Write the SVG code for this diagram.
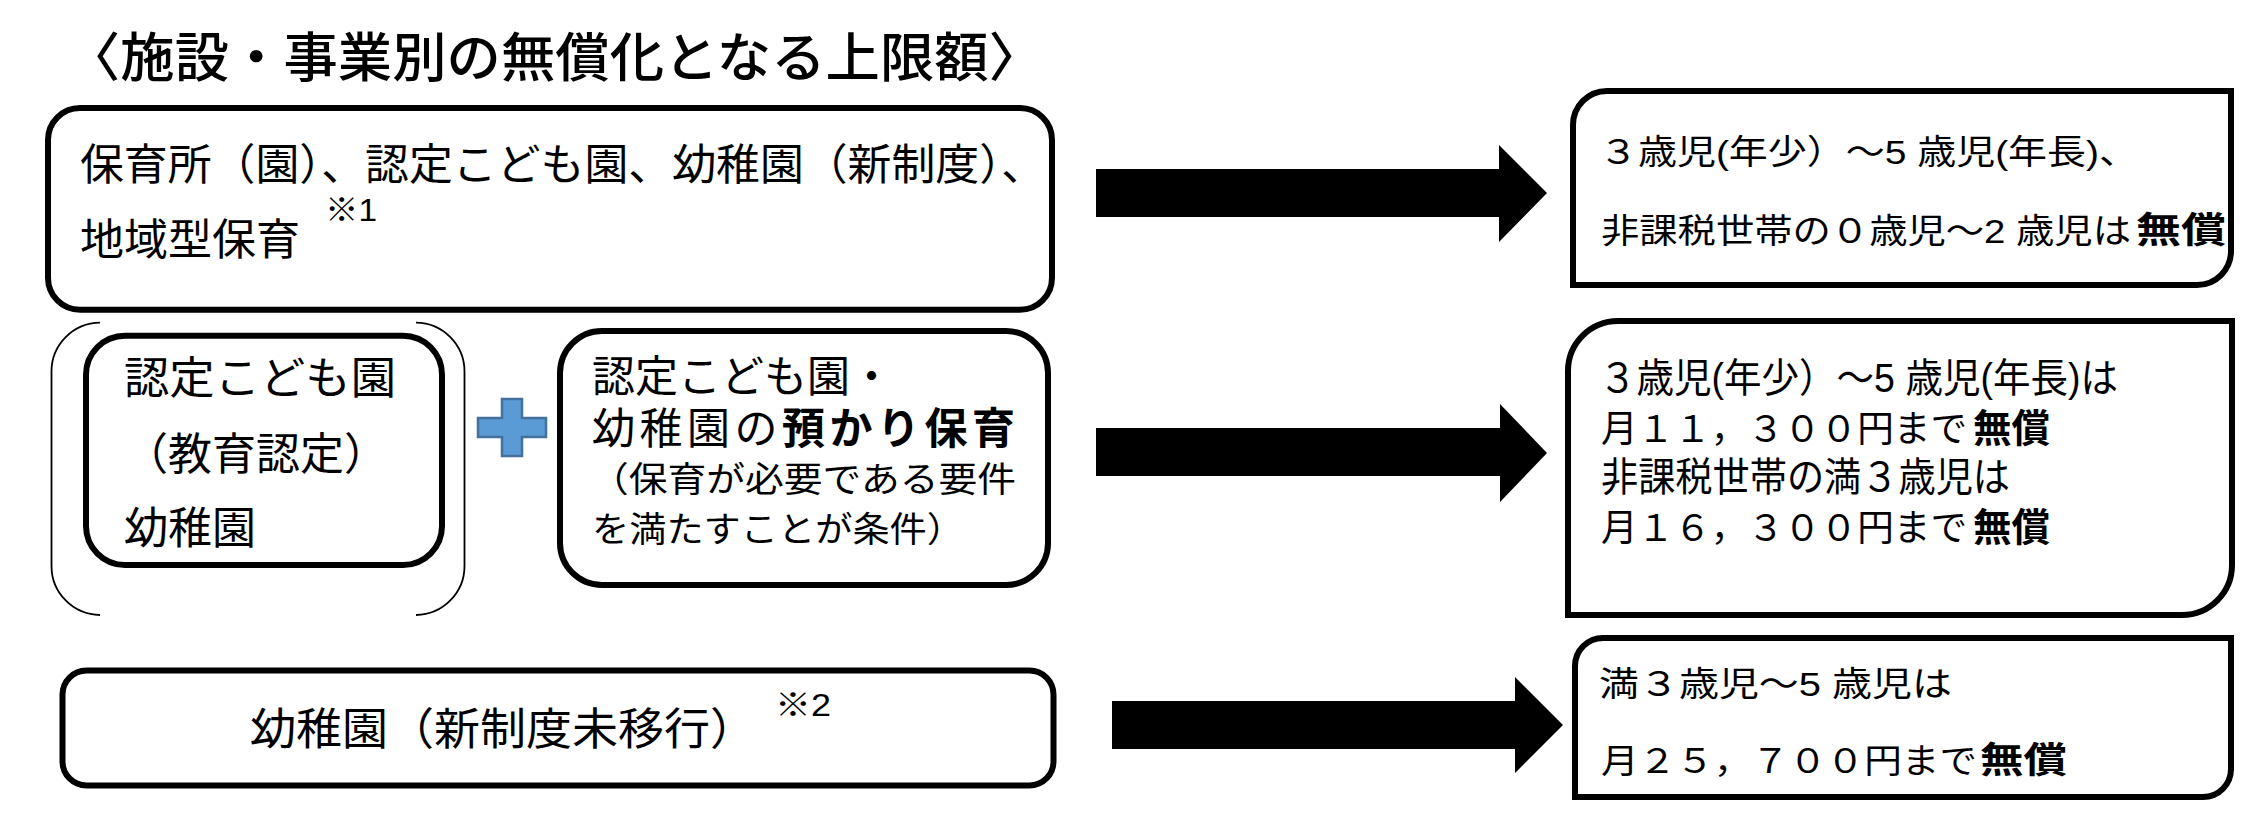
<svg xmlns="http://www.w3.org/2000/svg" width="2257" height="821" viewBox="0 0 2257 821">
<style>
.t{font-family:"Liberation Sans","Noto Sans CJK JP",sans-serif;fill:#000}
.b{font-weight:bold}
.box{fill:#fff;stroke:#000;stroke-width:6}
.brk{fill:none;stroke:#000;stroke-width:1.8}
.arr{fill:#000}
</style>
<rect width="2257" height="821" fill="#fff"/>
<g id="title">
<text class="t" x="66" y="77" font-size="53" font-weight="500" textLength="977" lengthAdjust="spacingAndGlyphs">〈施設・事業別の無償化となる上限額〉</text>
</g>
<g id="box-hoikusho">
<rect class="box" x="48" y="108" width="1004" height="201.7" rx="32"/>
<text class="t" x="80" y="180" font-size="43" textLength="965" lengthAdjust="spacingAndGlyphs">保育所（園）、認定こども園、幼稚園（新制度）、</text>
<text class="t" x="80" y="255" font-size="43" textLength="220" lengthAdjust="spacingAndGlyphs">地域型保育</text>
<text class="t" x="325" y="221" font-size="32" textLength="52" lengthAdjust="spacingAndGlyphs">※1</text>
</g>
<g id="bracket">
<path class="brk" d="M100,322.7 A49,49 0 0 0 51.5,371.7 V566 A49,49 0 0 0 100,615"/>
<path class="brk" d="M416,322.7 A49,49 0 0 1 464.5,371.7 V566 A49,49 0 0 1 416,615"/>
</g>
<g id="box-kyoiku">
<rect class="box" x="86" y="335.7" width="356" height="229.3" rx="39"/>
<text class="t" x="124" y="394" font-size="44" textLength="272" lengthAdjust="spacingAndGlyphs">認定こども園</text>
<text class="t" x="124" y="470" font-size="44">（教育認定）</text>
<text class="t" x="124" y="544" font-size="44">幼稚園</text>
</g>
<g id="plus">
<path d="M502,399 H522 V418 H546 V437 H522 V456 H502 V437 H478 V418 H502 Z" fill="#5B9BD5" stroke="#41719C" stroke-width="2.5"/>
</g>
<g id="box-azukari">
<rect class="box" x="560" y="331" width="488" height="254" rx="42"/>
<text class="t" x="592" y="392" font-size="43">認定こども園・</text>
<text class="t" x="592" y="444" font-size="43" letter-spacing="4.5">幼稚園の<tspan class="b">預かり保育</tspan></text>
<text class="t" x="590" y="492" font-size="35" textLength="426" lengthAdjust="spacingAndGlyphs">（保育が必要である要件</text>
<text class="t" x="592" y="542" font-size="35" textLength="372" lengthAdjust="spacingAndGlyphs">を満たすことが条件）</text>
</g>
<g id="box-mishinko">
<rect class="box" x="62.5" y="670.5" width="991" height="115" rx="24" stroke-width="5"/>
<text class="t" x="250" y="745" font-size="44" textLength="506" lengthAdjust="spacingAndGlyphs">幼稚園（新制度未移行）</text>
<text class="t" x="775" y="716" font-size="32" textLength="56" lengthAdjust="spacingAndGlyphs">※2</text>
</g>
<g id="result-1">
<path class="box" d="M1573,125 A34,34 0 0 1 1607,91 H2231 V251 A34,34 0 0 1 2197,285 H1573 Z"/>
<text class="t" x="1599" y="164" font-size="34" textLength="539" lengthAdjust="spacingAndGlyphs">３歳児(年少）～5 歳児(年長)、</text>
<text class="t" x="1601" y="243" font-size="34" textLength="530" lengthAdjust="spacingAndGlyphs">非課税世帯の０歳児～2 歳児は</text>
<text class="t b" x="2136" y="243" font-size="36" textLength="90" lengthAdjust="spacingAndGlyphs">無償</text>
</g>
<g id="result-2">
<path class="box" d="M1568,371 A50,50 0 0 1 1618,321 H2232 V565 A50,50 0 0 1 2182,615 H1568 Z"/>
<text class="t" x="1599" y="392" font-size="40" textLength="519" lengthAdjust="spacingAndGlyphs">３歳児(年少）～5 歳児(年長)は</text>
<text class="t" x="1601" y="442" font-size="37" textLength="366" lengthAdjust="spacingAndGlyphs">月１１，３００円まで</text>
<text class="t b" x="1973" y="442" font-size="39" textLength="77" lengthAdjust="spacingAndGlyphs">無償</text>
<text class="t" x="1601" y="491" font-size="40" textLength="409" lengthAdjust="spacingAndGlyphs">非課税世帯の満３歳児は</text>
<text class="t" x="1601" y="541" font-size="37" textLength="366" lengthAdjust="spacingAndGlyphs">月１６，３００円まで</text>
<text class="t b" x="1973" y="541" font-size="39" textLength="77" lengthAdjust="spacingAndGlyphs">無償</text>
</g>
<g id="result-3">
<path class="box" d="M1575,666 A28,28 0 0 1 1603,638 H2231 V769 A28,28 0 0 1 2203,797 H1575 Z"/>
<text class="t" x="1599" y="696" font-size="34" textLength="353" lengthAdjust="spacingAndGlyphs">満３歳児～5 歳児は</text>
<text class="t" x="1601" y="773" font-size="34" textLength="376" lengthAdjust="spacingAndGlyphs">月２５，７００円まで</text>
<text class="t b" x="1980" y="773" font-size="36" textLength="87" lengthAdjust="spacingAndGlyphs">無償</text>
</g>
<g id="connectors">
<path class="arr" d="M1096,169 H1499 V145 L1547,193 L1499,242 V217 H1096 Z"/>
<path class="arr" d="M1096,428 H1500 V404 L1547,453 L1500,502 V476 H1096 Z"/>
<path class="arr" d="M1112,701 H1515 V677 L1563,725 L1515,773 V749 H1112 Z"/>
</g>
</svg>
